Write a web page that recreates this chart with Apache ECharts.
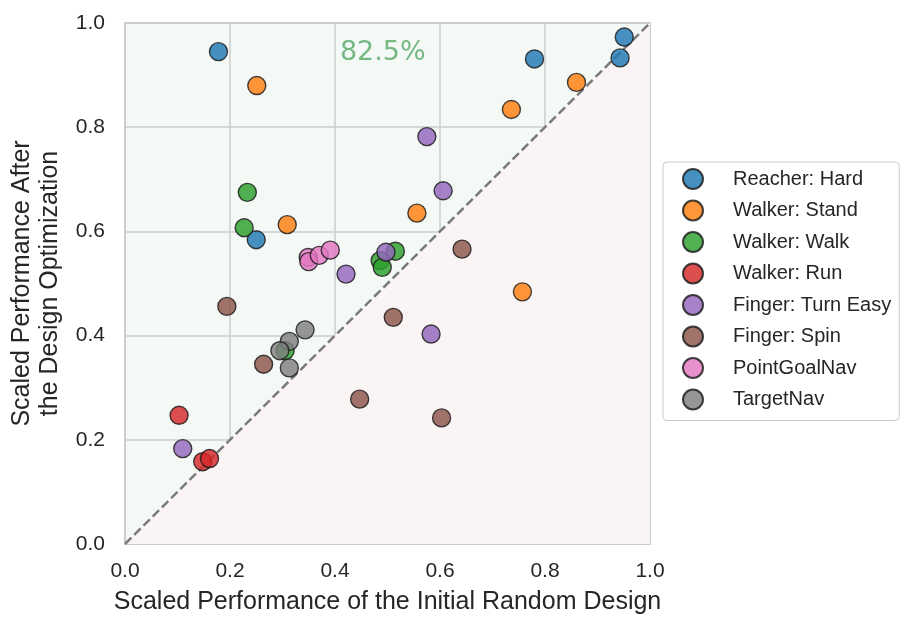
<!DOCTYPE html>
<html><head><meta charset="utf-8">
<script src="https://cdn.jsdelivr.net/npm/echarts@6/dist/echarts.min.js"></script>
<style>html,body{margin:0;padding:0;background:#fff}#c{width:919px;height:631px}</style>
</head><body><div id="c"></div>
<script>
const seriesNames = ["Reacher: Hard","Walker: Stand","Walker: Walk","Walker: Run","Finger: Turn Easy","Finger: Spin","PointGoalNav","TargetNav"];
const colors = ["#1f77b4","#ff7f0e","#2ca02c","#d62728","#9467bd","#8c564b","#e377c2","#7f7f7f"];
const reacherHard = [[0.178,0.945],[0.780,0.931],[0.951,0.973],[0.943,0.933],[0.250,0.584]];
const walkerStand = [[0.251,0.880],[0.309,0.613],[0.556,0.635],[0.736,0.834],[0.860,0.886],[0.757,0.484]];
const walkerWalk = [[0.233,0.675],[0.227,0.607],[0.486,0.544],[0.490,0.531],[0.515,0.562],[0.305,0.371]];
const walkerRun = [[0.103,0.247],[0.148,0.158],[0.161,0.164]];
const fingerTurnEasy = [[0.575,0.782],[0.606,0.678],[0.421,0.518],[0.497,0.560],[0.583,0.403],[0.110,0.183]];
const fingerSpin = [[0.194,0.456],[0.264,0.345],[0.447,0.278],[0.511,0.435],[0.642,0.566],[0.603,0.242]];
const pointGoalNav = [[0.349,0.550],[0.350,0.542],[0.370,0.554],[0.391,0.564]];
const targetNav = [[0.343,0.411],[0.313,0.389],[0.295,0.371],[0.313,0.338]];
const allData = [reacherHard,walkerStand,walkerWalk,walkerRun,fingerTurnEasy,fingerSpin,pointGoalNav,targetNav];
const diagonal = [[0,0],[1,1]];
const annotationText = "82.5%";
const annotationPos = [0.491,0.942];

const chart = echarts.init(document.getElementById('c'));
const font = "'Liberation Sans', Arial, sans-serif";
const series = [
  {type:'line', data:diagonal, symbol:'none', silent:true, z:1,
   lineStyle:{color:'#7a7a7a', width:2.5, type:[9,4]},
   areaStyle:{color:'#faf4f4', opacity:1, origin:'start'}},
  {type:'scatter', data:[annotationPos], symbolSize:0, silent:true, z:1,
   label:{show:true, formatter:annotationText, color:'#55a868', fontSize:27, fontFamily:"'DejaVu Sans', sans-serif", position:'inside'}}
];
allData.forEach((d,i)=>{
  series.push({name:seriesNames[i], type:'scatter', data:d, symbolSize:18, z:5,
    itemStyle:{color:colors[i], opacity:0.82, borderColor:'#1a1a1a', borderWidth:1.4}});
});
chart.setOption({
  animation:false,
  backgroundColor:'#fff',
  grid:{left:125, top:23, width:525, height:521, outerBoundsMode:'none', containLabel:false,
    show:true, backgroundColor:'#f4f9f6', borderColor:'#cccccc', borderWidth:2},
  xAxis:{type:'value', min:0, max:1, interval:0.2,
    name:'Scaled Performance of the Initial Random Design', nameLocation:'middle', nameGap:46,
    nameTextStyle:{fontSize:25, color:'#262626', fontFamily:font},
    axisLine:{show:false}, axisTick:{show:false},
    axisLabel:{fontSize:21, color:'#262626', fontFamily:font, margin:17, formatter:v=>v.toFixed(1)},
    splitLine:{lineStyle:{color:'#cccccc', width:1.5}}},
  yAxis:{type:'value', min:0, max:1, interval:0.2,
    name:'Scaled Performance After\nthe Design Optimization', nameLocation:'middle', nameGap:61,
    nameTextStyle:{fontSize:25, color:'#262626', fontFamily:font, lineHeight:28},
    axisLine:{show:false}, axisTick:{show:false},
    axisLabel:{fontSize:21, color:'#262626', fontFamily:font, margin:20, formatter:v=>v.toFixed(1)},
    splitLine:{lineStyle:{color:'#cccccc', width:1.5}}},
  legend:{data:seriesNames, orient:'vertical', left:663, top:162, itemWidth:20, itemHeight:20, itemGap:9.5,
    padding:[6,8,10,19], borderColor:'#cccccc', borderWidth:1, borderRadius:4, backgroundColor:'#fff',
    itemStyle:{opacity:0.82}, textStyle:{fontSize:20, color:'#262626', fontFamily:font, padding:[0,0,0,25]}, icon:'circle'},
  series:series
});
</script></body></html>
